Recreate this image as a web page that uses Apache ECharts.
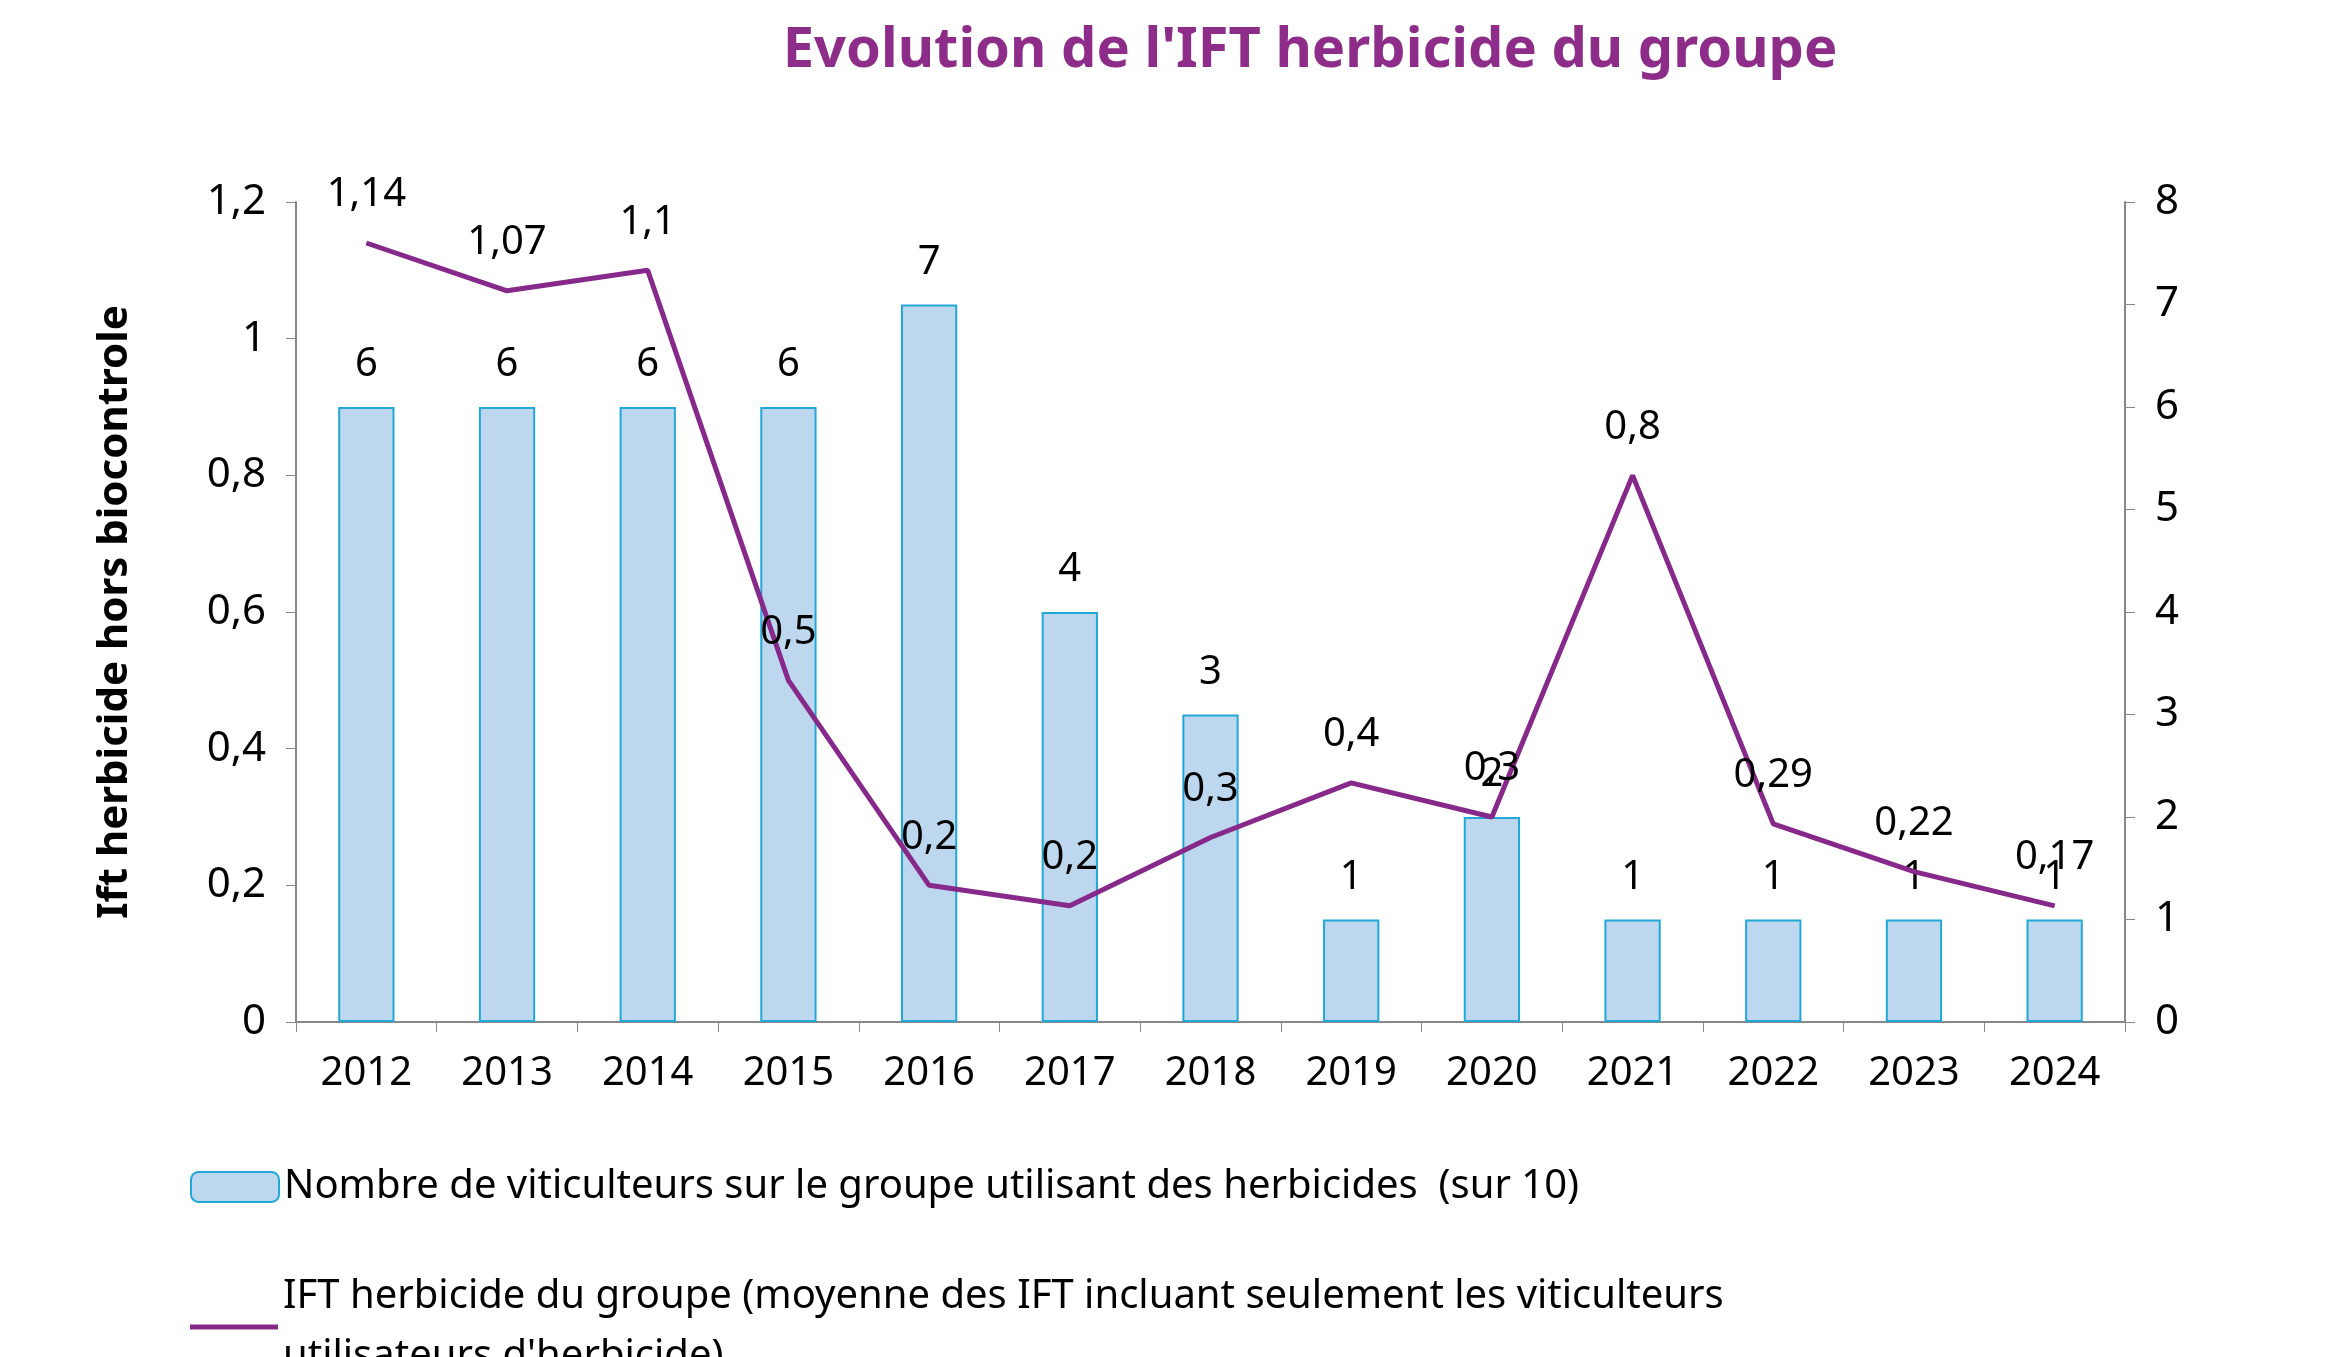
<!DOCTYPE html>
<html><head><meta charset="utf-8">
<script src="https://cdn.jsdelivr.net/npm/echarts@6/dist/echarts.min.js"></script>
<style>html,body{margin:0;padding:0;background:#fff}#c{width:2347px;height:1357px}</style>
</head><body><div id="c"></div>
<script>
const years=['2012','2013','2014','2015','2016','2017','2018','2019','2020','2021','2022','2023','2024'];
const viticulteurs=[6,6,6,6,7,4,3,1,2,1,1,1,1];
const ift=[1.14,1.07,1.1,0.5,0.2,0.17,0.27,0.35,0.3,0.8,0.29,0.22,0.17];
const iftLabels=['1,14','1,07','1,1','0,5','0,2','0,2','0,3','0,4','0,3','0,8','0,29','0,22','0,17'];
const F='"Noto Sans", "Open Sans", sans-serif';
const fmt=v=>String(Math.round(v*10)/10).replace('.',',');
const barName='Nombre de viticulteurs sur le groupe utilisant des herbicides  (sur 10)';
const lineName="IFT herbicide du groupe (moyenne des IFT incluant seulement les viticulteurs\nutilisateurs d'herbicide)";
const c=echarts.init(document.getElementById('c'));
c.setOption({
  animation:false,
  title:{text:"Evolution de l'IFT herbicide du groupe",left:1305,top:18,textAlign:'center',
    textStyle:{fontFamily:F,fontSize:56,fontWeight:'bold',color:'#8E2C8A'}},
  grid:{left:296,right:222,top:202,bottom:335},
  legend:[
    {data:[barName],left:185,top:1162,itemWidth:88,itemHeight:30,itemGap:6,
     textStyle:{fontFamily:F,fontSize:40,color:'#000'}},
    {data:[{name:lineName,icon:'rect'}],left:185,top:1262,itemWidth:88,itemHeight:5,
     textStyle:{fontFamily:F,fontSize:40,color:'#000',lineHeight:60}}
  ],
  xAxis:{type:'category',data:years,axisTick:{show:true,length:10,lineStyle:{color:'#888'}},
    axisLine:{lineStyle:{color:'#888',width:2}},
    axisLabel:{fontFamily:F,fontSize:40,color:'#000',margin:32}},
  yAxis:[
    {type:'value',min:0,max:1.2,interval:0.2,name:'Ift herbicide hors biocontrole',nameLocation:'middle',nameGap:160,
     nameTextStyle:{fontFamily:F,fontSize:42,fontWeight:'bold',color:'#000'},
     axisLine:{show:true,lineStyle:{color:'#888',width:2}},axisTick:{show:true,length:10,lineStyle:{color:'#888'}},
     splitLine:{show:false},axisLabel:{fontFamily:F,fontSize:42,color:'#000',margin:30,formatter:fmt}},
    {type:'value',min:0,max:8,interval:1,
     axisLine:{show:true,lineStyle:{color:'#888',width:2}},axisTick:{show:true,length:10,lineStyle:{color:'#888'}},
     splitLine:{show:false},axisLabel:{fontFamily:F,fontSize:42,color:'#000',margin:30}}
  ],
  series:[
    {name:barName,type:'bar',yAxisIndex:1,data:viticulteurs,barWidth:'40%',
     itemStyle:{color:'#BDD7EE',borderColor:'#22A8D6',borderWidth:2},
     label:{show:true,position:'top',distance:22,fontFamily:F,fontSize:40,color:'#000'}},
    {name:lineName,type:'line',yAxisIndex:0,data:ift,
     symbol:'circle',symbolSize:0.1,lineStyle:{color:'#87298A',width:5},itemStyle:{color:'#87298A'},
     label:{show:true,position:'top',distance:28,fontFamily:F,fontSize:40,color:'#000',
       formatter:p=>iftLabels[p.dataIndex]}}
  ]
});
</script></body></html>
